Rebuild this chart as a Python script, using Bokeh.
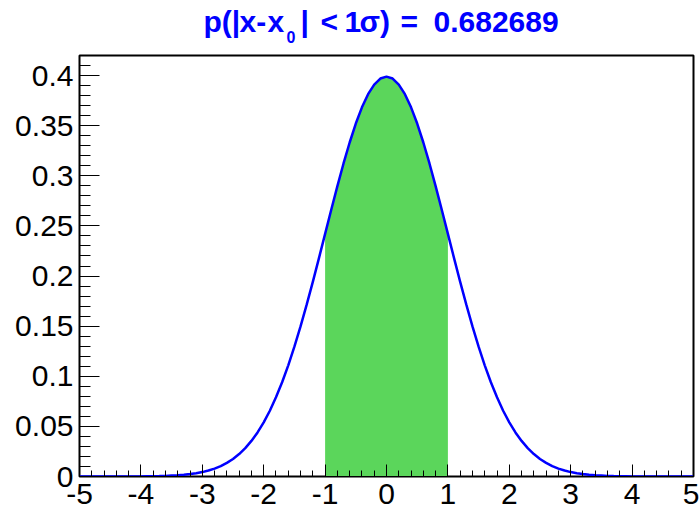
from bokeh.plotting import figure
from bokeh.models import Range1d, FixedTicker, ColumnDataSource
from bokeh.layouts import column
from bokeh.core.properties import value
from bokeh.embed import file_html
from bokeh.resources import INLINE

# Standard normal density, sampled every 0.1 from x = 0 to x = 5 (the curve is symmetric)
half_step = 0.1
density_right = [
    0.3989, 0.3970, 0.3910, 0.3814, 0.3683, 0.3521, 0.3332, 0.3123, 0.2897, 0.2661,
    0.2420, 0.2179, 0.1942, 0.1714, 0.1497, 0.1295, 0.1109, 0.0940, 0.0790, 0.0656,
    0.0540, 0.0440, 0.0355, 0.0283, 0.0224, 0.0175, 0.0136, 0.0104, 0.0079, 0.0060,
    0.0044, 0.0033, 0.0024, 0.0017, 0.0012, 0.0009, 0.0006, 0.0004, 0.0003, 0.0002,
    0.0001, 0.0001, 0.0001, 0.0000, 0.0000, 0.0000, 0.0000, 0.0000, 0.0000, 0.0000,
    0.0000,
]
band_low, band_high = -1.0, 1.0
x_ticks = [-5, -4, -3, -2, -1, 0, 1, 2, 3, 4, 5]
x_tick_labels = ["-5", "-4", "-3", "-2", "-1", "0", "1", "2", "3", "4", "5"]
y_ticks = [0, 0.05, 0.1, 0.15, 0.2, 0.25, 0.3, 0.35, 0.4]
y_tick_labels = ["0", "0.05", "0.1", "0.15", "0.2", "0.25", "0.3", "0.35", "0.4"]

# full curve from the mirrored half
n = len(density_right)
xs = [round((i - (n - 1)) * half_step, 1) for i in range(n)] + \
     [round(i * half_step, 1) for i in range(1, n)]
ys = density_right[::-1] + density_right[1:]

band_x = [x for x in xs if band_low - 1e-9 <= x <= band_high + 1e-9]
band_y = [y for x, y in zip(xs, ys) if band_low - 1e-9 <= x <= band_high + 1e-9]

font = "Liberation Sans"
W = 699
TITLE_H = 54
LEFT, RIGHT = 79, 6

# --- title strip: pixel-like coordinates (x right, y down) ---
t = figure(width=W, height=TITLE_H, output_backend="svg", toolbar_location=None,
           title=None,
           x_range=Range1d(LEFT, W - RIGHT), y_range=Range1d(TITLE_H, 0),
           x_axis_type=None, y_axis_type=None,
           min_border_left=LEFT, min_border_right=RIGHT,
           min_border_top=0, min_border_bottom=0)
t.outline_line_color = None
t.background_fill_color = "white"
t.border_fill_color = "white"
t.xgrid.visible = False
t.ygrid.visible = False

title_src = ColumnDataSource(dict(
    text=["p(|", "x-", "x", "0", "|", "<", "1", "\u03c3)", "=", "0.682689"],
    x=[203, 239, 267, 286, 300, 320, 344, 359, 400, 433],
    y=[21, 21, 21, 36, 21, 21, 21, 21, 21, 21],
    size=["30px", "30px", "30px", "16px", "30px", "30px", "30px", "30px", "30px", "30px"],
))
t.text(x="x", y="y", text="text", source=title_src,
       text_font=value(font), text_font_style="bold", text_font_size="size",
       text_color="#0000ff", text_align="left", text_baseline="alphabetic")

# --- main plot ---
p = figure(width=W, height=513 - TITLE_H, output_backend="svg", toolbar_location=None,
           title=None,
           x_range=Range1d(-5, 5), y_range=Range1d(0, 0.42),
           min_border_left=LEFT, min_border_right=RIGHT, min_border_top=55 - TITLE_H,
           min_border_bottom=37)
p.background_fill_color = "white"
p.border_fill_color = "white"
p.outline_line_color = "black"
p.outline_line_width = 2
p.xgrid.visible = False
p.ygrid.visible = False

# shaded one-sigma band and the density curve
p.varea(x=band_x, y1=[0] * len(band_x), y2=band_y, fill_color="#5bd65b")
p.line(xs, ys, line_color="#0000ff", line_width=2.5)

xa = p.xaxis[0]
xa.ticker = FixedTicker(ticks=x_ticks,
                        minor_ticks=[round(-5 + 0.2 * k, 1) for k in range(51)])
xa.major_label_overrides = {tk: s for tk, s in zip(x_ticks, x_tick_labels)}
xa.major_tick_in = 12
xa.major_tick_out = 0
xa.minor_tick_in = 6
xa.minor_tick_out = 0
xa.major_label_text_font = font
xa.major_label_text_font_size = "30px"
xa.major_label_text_color = "black"
xa.major_label_standoff = 7
xa.axis_line_color = "black"

ya = p.yaxis[0]
ya.ticker = FixedTicker(ticks=y_ticks,
                        minor_ticks=[round(0.01 * k, 2) for k in range(43)])
ya.major_label_overrides = {tk: s for tk, s in zip(y_ticks, y_tick_labels)}
ya.major_tick_in = 20
ya.major_tick_out = 0
ya.minor_tick_in = 11
ya.minor_tick_out = 0
ya.major_label_text_font = font
ya.major_label_text_font_size = "30px"
ya.major_label_text_color = "black"
ya.major_label_standoff = 6
ya.axis_line_color = "black"

layout = column(t, p, spacing=0)
open("out.html", "w").write(file_html(layout, INLINE))
